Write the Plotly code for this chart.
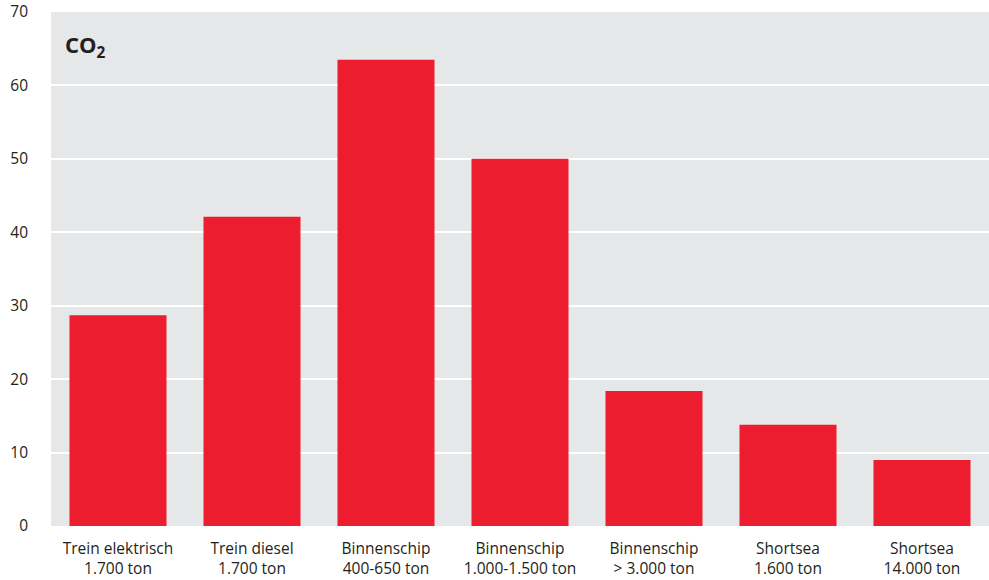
import plotly.graph_objects as go

categories = ["Trein elektrisch<br>1.700 ton", "Trein diesel<br>1.700 ton", "Binnenschip<br>400-650 ton",
              "Binnenschip<br>1.000-1.500 ton", "Binnenschip<br>> 3.000 ton", "Shortsea<br>1.600 ton",
              "Shortsea<br>14.000 ton"]
values = [28.7, 42.1, 63.5, 50.0, 18.4, 13.8, 9.0]
y_ticks = [0, 10, 20, 30, 40, 50, 60, 70]

fig = go.Figure(go.Bar(x=categories, y=values, marker=dict(color="#ed1c2e", line=dict(width=0)),
                       hoverinfo="x+y"))

font_fam = "Open Sans, Noto Sans, sans-serif"
fig.update_layout(
    width=989, height=580,
    margin=dict(l=51, r=0, t=12, b=54, autoexpand=False),
    paper_bgcolor="white", plot_bgcolor="#e6e7e8",
    bargap=0.276,
    showlegend=False,
    font=dict(family=font_fam, size=15.5, color="#231f20"),
    xaxis=dict(range=[-0.5, 6.5], showgrid=False, zeroline=False, tickfont=dict(size=15.5),
               ticks="", ticklabelstandoff=11, automargin=False),
    yaxis=dict(range=[0, 70], tickvals=y_ticks, showgrid=True, gridcolor="white", gridwidth=2,
               zeroline=False, ticks="", tickfont=dict(size=15.5), ticklabelstandoff=22, automargin=False),
    annotations=[dict(text="<b>CO<sub>2</sub></b>", x=0.013, y=0.97, xref="paper", yref="paper",
                      xanchor="left", yanchor="top", showarrow=False,
                      font=dict(size=22, color="#231f20", family=font_fam))],
)

fig.write_html("out.html", config={"displayModeBar": False},
               post_script="document.body.style.margin='0';document.body.style.padding='0';"
                           "document.body.style.overflow='hidden';"
                           "document.documentElement.style.overflow='hidden';")
